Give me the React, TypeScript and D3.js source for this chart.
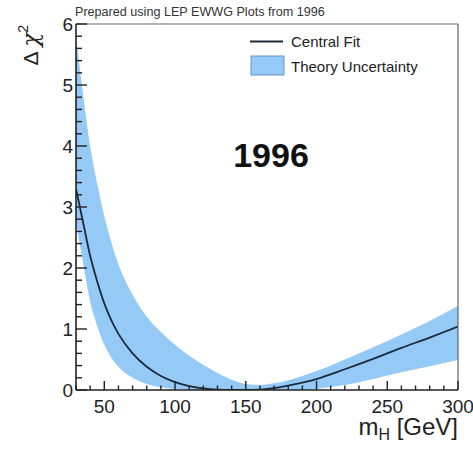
import React from "react";
import * as d3 from "d3";

// Higgs mass grid (GeV) and Δχ² values
const massGrid = [30, 35, 40, 45, 50, 55, 60, 70, 80, 90, 100, 110, 120, 130, 140, 150, 160, 170, 180, 190, 200, 220, 240, 260, 280, 300];
const centralFit = [3.3, 2.75, 2.2, 1.78, 1.42, 1.14, 0.92, 0.6, 0.38, 0.23, 0.13, 0.065, 0.028, 0.007, 0, 0, 0.005, 0.03, 0.07, 0.12, 0.18, 0.34, 0.51, 0.69, 0.86, 1.04];
const bandUpper = [5.8, 4.85, 4.0, 3.38, 2.85, 2.42, 2.06, 1.56, 1.2, 0.95, 0.74, 0.56, 0.41, 0.28, 0.17, 0.1, 0.085, 0.11, 0.16, 0.23, 0.31, 0.5, 0.7, 0.91, 1.13, 1.38];
const bandLower = [2.75, 2.08, 1.45, 1.05, 0.74, 0.53, 0.38, 0.2, 0.1, 0.045, 0.018, 0.006, 0, 0, 0, 0, 0, 0, 0, 0, 0.02, 0.08, 0.18, 0.29, 0.39, 0.49];

const xMajorTicks = [50, 100, 150, 200, 250, 300];
const yMajorTicks = [0, 1, 2, 3, 4, 5, 6];

const W = 473;
const H = 452;
const plot = { left: 76, right: 458, top: 24, bottom: 390 };

const FONT = "Liberation Sans, Arial, Helvetica, sans-serif";
const BAND_FILL = "#95caf7";
const LINE_COLOR = "#1b2b3b";

export default function App() {
  const x = d3.scaleLinear().domain([30, 300]).range([plot.left, plot.right]);
  const y = d3.scaleLinear().domain([0, 6]).range([plot.bottom, plot.top]);

  const rows = massGrid.map((m, i) => ({ m, c: centralFit[i], lo: bandLower[i], hi: bandUpper[i] }));

  const area = d3
    .area<(typeof rows)[number]>()
    .x((d) => x(d.m))
    .y0((d) => y(d.lo))
    .y1((d) => y(d.hi))
    .curve(d3.curveMonotoneX);

  const line = d3
    .line<(typeof rows)[number]>()
    .x((d) => x(d.m))
    .y((d) => y(d.c))
    .curve(d3.curveMonotoneX);

  const xMinor = d3.range(30, 301, 10).filter((v) => !xMajorTicks.includes(v));
  const yMinor = d3.range(0, 6.0001, 0.2).filter((v) => Math.abs(v - Math.round(v)) > 1e-6);

  return (
    <svg width={W} height={H} style={{ position: "absolute", left: 0, top: 0, background: "#fff" }} fontFamily={FONT}>
      <defs>
        <clipPath id="plot-clip">
          <rect x={plot.left} y={plot.top} width={plot.right - plot.left} height={plot.bottom - plot.top} />
        </clipPath>
      </defs>

      <text x={75} y={16} fontSize={12.6} fill="#333">
        Prepared using LEP EWWG Plots from 1996
      </text>

      <g clipPath="url(#plot-clip)">
        <path d={area(rows) ?? ""} fill={BAND_FILL} stroke="none" />
        <path d={line(rows) ?? ""} fill="none" stroke={LINE_COLOR} strokeWidth={1.8} />
      </g>

      {/* frame */}
      <line x1={plot.left} x2={plot.right} y1={plot.top} y2={plot.top} stroke="#666" strokeWidth={1.2} />
      <line x1={plot.right} x2={plot.right} y1={plot.top} y2={plot.bottom} stroke="#666" strokeWidth={1.2} />
      <line x1={plot.left} x2={plot.left} y1={plot.top} y2={plot.bottom} stroke="#222" strokeWidth={1.6} />
      <line x1={plot.left} x2={plot.right} y1={plot.bottom} y2={plot.bottom} stroke="#222" strokeWidth={1.6} />

      {/* x ticks */}
      {xMajorTicks.map((v) => (
        <g key={`xm${v}`}>
          <line x1={x(v)} x2={x(v)} y1={plot.bottom} y2={plot.bottom - 9} stroke="#222" strokeWidth={1.4} />
          <text x={x(v)} y={413} fontSize={19} textAnchor="middle" fill="#222">
            {v}
          </text>
        </g>
      ))}
      {xMinor.map((v) => (
        <line key={`xn${v}`} x1={x(v)} x2={x(v)} y1={plot.bottom} y2={plot.bottom - 4.5} stroke="#222" strokeWidth={1.4} />
      ))}

      {/* y ticks */}
      {yMajorTicks.map((v) => (
        <g key={`ym${v}`}>
          <line x1={plot.left} x2={plot.left + 11} y1={y(v)} y2={y(v)} stroke="#222" strokeWidth={1.4} />
          <text x={73} y={y(v) + 7} fontSize={19} textAnchor="end" fill="#222">
            {v}
          </text>
        </g>
      ))}
      {yMinor.map((v) => (
        <line key={`yn${v.toFixed(1)}`} x1={plot.left} x2={plot.left + 6} y1={y(v)} y2={y(v)} stroke="#222" strokeWidth={1.4} />
      ))}

      {/* axis titles */}
      <text x={458} y={435} fontSize={24} textAnchor="end" fill="#222">
        m<tspan fontSize={16} dy={5}>H</tspan>
        <tspan dy={-5}> [GeV]</tspan>
      </text>
      <text transform="translate(38,25) rotate(-90)" fontSize={21} textAnchor="end" fill="#222">
        Δ <tspan fontFamily="DejaVu Serif, serif" fontStyle="italic" fontSize={23}>χ</tspan>
        <tspan fontSize={14} dy={-10}>2</tspan>
      </text>

      {/* legend */}
      <line x1={250} x2={283} y1={41.5} y2={41.5} stroke={LINE_COLOR} strokeWidth={1.8} />
      <text x={291} y={47} fontSize={15} fill="#222">
        Central Fit
      </text>
      <rect x={251} y={56} width={33} height={19} fill={BAND_FILL} stroke="#6f8fc8" strokeWidth={1} />
      <text x={291} y={72} fontSize={15} fill="#222">
        Theory Uncertainty
      </text>

      <text x={271} y={167} fontSize={34} fontWeight="bold" textAnchor="middle" fill="#111">
        1996
      </text>
    </svg>
  );
}
